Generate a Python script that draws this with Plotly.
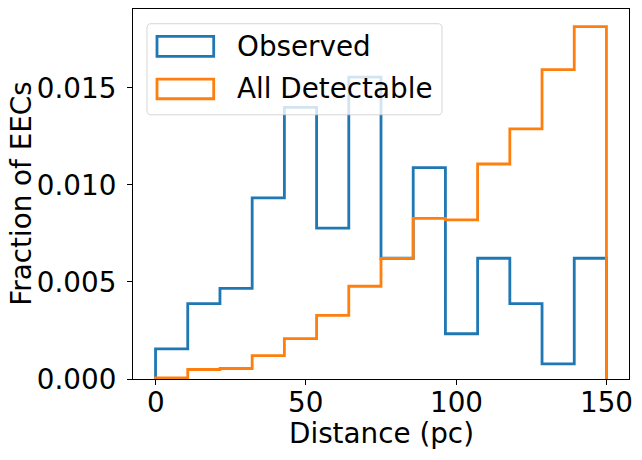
import numpy as np
import plotly.graph_objects as go

# ---- data ----
bin_start = 0.0
bin_stop = 150.0
n_bins = 14
observed = [0.001556, 0.003889, 0.004667, 0.009333, 0.014000, 0.007778, 0.015556,
            0.006222, 0.010889, 0.002333, 0.006222, 0.003889, 0.000778, 0.006222]
all_detectable = [0.00006, 0.00049, 0.00054, 0.00120, 0.00208, 0.00328, 0.00478,
                  0.00622, 0.00828, 0.00820, 0.01108, 0.01289, 0.01594, 0.01816]
series_names = ["Observed", "All Detectable"]
series_colors = ["#1f77b4", "#ff7f0e"]
x_ticks = [0, 50, 100, 150]
x_tick_labels = ["0", "50", "100", "150"]
y_ticks = [0.0, 0.005, 0.010, 0.015]
x_label = "Distance (pc)"
y_label = "Fraction of EECs"

edges = np.linspace(bin_start, bin_stop, n_bins + 1)


def step_path(vals):
    xs = [edges[0]]
    ys = [0.0]
    for i, v in enumerate(vals):
        xs += [edges[i], edges[i + 1]]
        ys += [v, v]
    xs.append(edges[-1])
    ys.append(0.0)
    return xs, ys


W, H = 642, 460
L, R, T, B = 133.3, 629.3, 9.3, 379.0
pw, ph = R - L, B - T


def px(x):
    return (x - L) / pw


def py(y):
    return (B - y) / ph


fig = go.Figure()
for vals, name, col in zip([observed, all_detectable], series_names, series_colors):
    xs, ys = step_path(vals)
    fig.add_trace(go.Scatter(x=xs, y=ys, mode="lines", name=name,
                             line=dict(color=col, width=2.8), showlegend=False,
                             hoverinfo="skip"))

ymax = max(max(observed), max(all_detectable)) * 1.05
xpad = (bin_stop - bin_start) * 0.05

font = "DejaVu Sans"
FS = 27.8
fig.update_layout(
    width=W, height=H,
    margin=dict(l=L, r=W - R, t=T, b=H - B, pad=0),
    plot_bgcolor="white", paper_bgcolor="white",
    font=dict(family=font, size=FS, color="black"),
    xaxis=dict(range=[bin_start - xpad, bin_stop + xpad], tickvals=x_ticks,
               ticks="outside", ticklen=5, tickwidth=1.1, tickcolor="black",
               showline=True, linecolor="black", linewidth=1.1, mirror=True,
               showgrid=False, zeroline=False, showticklabels=False),
    yaxis=dict(range=[0, ymax], tickvals=y_ticks, tickformat=".3f",
               ticks="outside", ticklen=5, tickwidth=1.1, tickcolor="black",
               showline=True, linecolor="black", linewidth=1.1, mirror=True,
               showgrid=False, zeroline=False, tickfont=dict(size=FS),
               ticklabelstandoff=5),
)

# x tick labels
for tv, tl in zip(x_ticks, x_tick_labels):
    fig.add_annotation(text=tl, xref="x", yref="paper", x=tv, y=py(402),
                       xanchor="center", yanchor="middle", showarrow=False,
                       font=dict(size=FS, family=font))

# axis titles
fig.add_annotation(text=x_label, xref="paper", yref="paper", x=0.5, y=py(433),
                   xanchor="center", yanchor="middle", showarrow=False,
                   font=dict(size=FS, family=font))
fig.add_annotation(text=y_label, xref="paper", yref="paper", x=px(21), y=0.5,
                   xanchor="center", yanchor="middle", textangle=-90, showarrow=False,
                   font=dict(size=FS, family=font))

# legend box (rounded)
x0, x1, y0, y1, r = 147.3, 442.3, 24.0, 115.0, 4.0
path = (f"M {px(x0 + r)},{py(y0)} L {px(x1 - r)},{py(y0)} "
        f"Q {px(x1)},{py(y0)} {px(x1)},{py(y0 + r)} "
        f"L {px(x1)},{py(y1 - r)} Q {px(x1)},{py(y1)} {px(x1 - r)},{py(y1)} "
        f"L {px(x0 + r)},{py(y1)} Q {px(x0)},{py(y1)} {px(x0)},{py(y1 - r)} "
        f"L {px(x0)},{py(y0 + r)} Q {px(x0)},{py(y0)} {px(x0 + r)},{py(y0)} Z")
fig.add_shape(type="path", path=path, xref="paper", yref="paper",
              fillcolor="rgba(255,255,255,0.8)", line=dict(color="rgba(204,204,204,0.8)", width=1),
              layer="above")
patch_rows = [(36.7, 56.7), (79.3, 99.0)]
for (ya, yb), name, col in zip(patch_rows, series_names, series_colors):
    fig.add_shape(type="rect", xref="paper", yref="paper",
                  x0=px(157.3), x1=px(214.0), y0=py(yb), y1=py(ya),
                  line=dict(color=col, width=2.8), fillcolor="rgba(0,0,0,0)", layer="above")
    fig.add_annotation(text=name, xref="paper", yref="paper", x=px(235.0), y=py((ya + yb) / 2),
                       xanchor="left", yanchor="middle", showarrow=False,
                       font=dict(size=FS, family=font))

fig.write_html("out.html")
